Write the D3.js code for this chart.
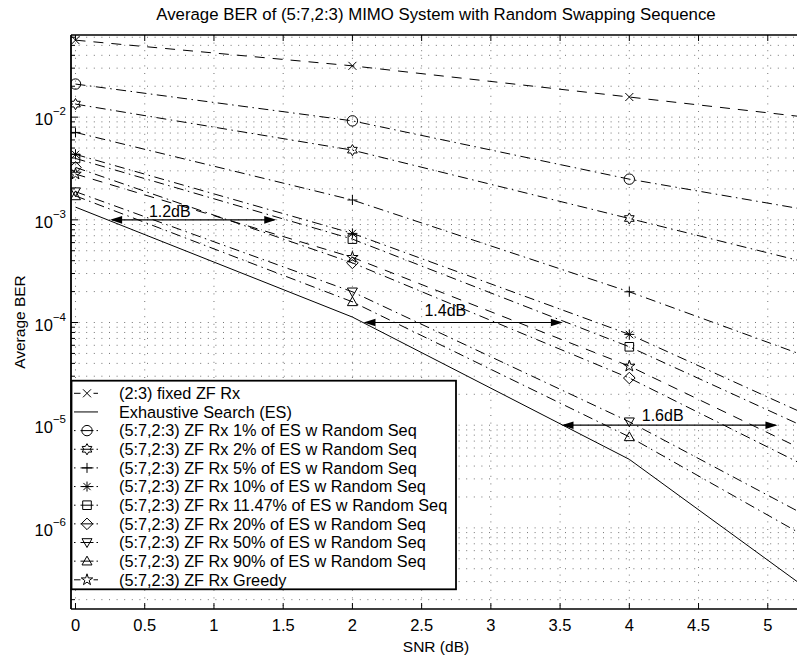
<!DOCTYPE html>
<html>
<head>
<meta charset="utf-8">
<script src="https://cdn.jsdelivr.net/npm/d3@7"></script>
<style>
  body { margin: 0; background: #fff; }
  svg { display: block; }
  text { font-family: "Liberation Sans", Arial, Helvetica, sans-serif; fill: #000; }
</style>
</head>
<body>
<svg id="chart" width="797" height="658"></svg>
<script>
// ---- data -------------------------------------------------------------
const snrDb = [0, 2, 4, 6];

const fixedZF   = [0.0562, 0.0316, 0.0157, 0.00774];
const exhaustive = [1.33e-3, 1.13e-4, 4.65e-6, 5.05e-8];
const rand1     = [0.0210, 9.2e-3, 2.49e-3, 8.5e-4];
const rand2     = [0.0134, 4.77e-3, 1.03e-3, 2.21e-4];
const rand5     = [7.1e-3, 1.56e-3, 1.99e-4, 2.07e-5];
const rand10    = [4.34e-3, 7.38e-4, 7.66e-5, 4.6e-6];
const rand1147  = [3.96e-3, 6.49e-4, 5.8e-5, 3.4e-6];
const rand20    = [3.24e-3, 3.81e-4, 2.88e-5, 1.3e-6];
const rand50    = [1.88e-3, 1.99e-4, 1.08e-5, 4.0e-7];
const rand90    = [1.71e-3, 1.59e-4, 7.7e-6, 2.3e-7];
const greedy    = [2.79e-3, 4.31e-4, 3.76e-5, 1.9e-6];

const legendLabels = [
  "(2:3) fixed ZF Rx",
  "Exhaustive Search (ES)",
  "(5:7,2:3) ZF Rx 1% of ES w Random Seq",
  "(5:7,2:3) ZF Rx 2% of ES w Random Seq",
  "(5:7,2:3) ZF Rx 5% of ES w Random Seq",
  "(5:7,2:3) ZF Rx 10% of ES w Random Seq",
  "(5:7,2:3) ZF Rx 11.47% of ES w Random Seq",
  "(5:7,2:3) ZF Rx 20% of ES w Random Seq",
  "(5:7,2:3) ZF Rx 50% of ES w Random Seq",
  "(5:7,2:3) ZF Rx 90% of ES w Random Seq",
  "(5:7,2:3) ZF Rx Greedy"
];

const xTicks = [0, 0.5, 1, 1.5, 2, 2.5, 3, 3.5, 4, 4.5, 5];
const yDecades = [-2, -3, -4, -5, -6];

// gain annotations (dB gap measured along constant-BER lines)
const gainLabels = ["1.2dB", "1.4dB", "1.6dB"];
const gainFrom   = [0.25, 2.08, 3.51];
const gainTo     = [1.45, 3.52, 5.07];
const gainBer    = [1e-3, 1e-4, 1e-5];
const gainTextX  = [0.53, 2.52, 4.09];
const gainTextBer = [1.22e-3, 1.32e-4, 1.25e-5];

const titleText = "Average BER of (5:7,2:3) MIMO System with Random Swapping Sequence";

// ---- series table -----------------------------------------------------
const seriesValues = [fixedZF, exhaustive, rand1, rand2, rand5, rand10, rand1147, rand20, rand50, rand90, greedy];
const seriesMarker = ["x", null, "o", "h", "+", "*", "s", "d", "v", "^", "p"];
const seriesStyle  = ["dash", "solid", "dashdot", "dashdot", "dashdot", "dashdot", "dashdot", "dashdot", "dashdot", "dashdot", "dash"];
const series = seriesValues.map((v, i) => ({
  name: legendLabels[i], values: v, marker: seriesMarker[i], style: seriesStyle[i]
}));

// ---- layout -----------------------------------------------------------
const svg = d3.select("#chart");
const plot = { left: 71, top: 35, right: 801, bottom: 609 };

const x = d3.scaleLinear().domain([-0.0325, 5.24]).range([plot.left, plot.right]);
const y = d3.scaleLog().domain([Math.pow(10, -6.79), Math.pow(10, -1.2)]).range([plot.bottom, plot.top]);

const dashArr = { dash: "10,8", dashdot: "10,4.5,1.5,4.5", solid: null };
const legendDash = { dash: "6.5,13,4.5", dashdot: "1.5,5,13,3,1.5", solid: null };

svg.append("defs").append("clipPath").attr("id", "plotClip")
  .append("rect")
  .attr("x", plot.left).attr("y", plot.top)
  .attr("width", plot.right - plot.left).attr("height", plot.bottom - plot.top);

// ---- grid -------------------------------------------------------------
const grid = svg.append("g").attr("stroke", "#000").attr("stroke-opacity", 0.55)
  .attr("stroke-width", 1).attr("stroke-dasharray", "1,6.6");

grid.selectAll("line.vx").data(xTicks).join("line")
  .attr("x1", d => x(d)).attr("x2", d => x(d))
  .attr("y1", plot.top).attr("y2", plot.bottom);

const yGridVals = [];
for (let e = -7; e <= -1; e++) {
  for (let k = 1; k <= 9; k++) {
    const v = k * Math.pow(10, e);
    if (v >= y.domain()[0] && v <= y.domain()[1]) yGridVals.push(v);
  }
}
grid.selectAll("line.hy").data(yGridVals).join("line")
  .attr("x1", plot.left).attr("x2", plot.right)
  .attr("y1", d => y(d)).attr("y2", d => y(d));

// ---- markers ----------------------------------------------------------
function markerPath(type) {
  const p = d3.path();
  if (type === "x") {
    const r = 4;
    p.moveTo(-r, -r); p.lineTo(r, r); p.moveTo(-r, r); p.lineTo(r, -r);
  } else if (type === "o") {
    p.arc(0, 0, 5.2, 0, 2 * Math.PI);
  } else if (type === "+") {
    const r = 5;
    p.moveTo(-r, 0); p.lineTo(r, 0); p.moveTo(0, -r); p.lineTo(0, r);
  } else if (type === "*") {
    const r = 5, q = 3.6;
    p.moveTo(-r, 0); p.lineTo(r, 0); p.moveTo(0, -r); p.lineTo(0, r);
    p.moveTo(-q, -q); p.lineTo(q, q); p.moveTo(-q, q); p.lineTo(q, -q);
  } else if (type === "s") {
    const r = 4.3;
    p.rect(-r, -r, 2 * r, 2 * r);
  } else if (type === "d") {
    const r = 5.8;
    p.moveTo(0, -r); p.lineTo(r, 0); p.lineTo(0, r); p.lineTo(-r, 0); p.closePath();
  } else if (type === "v") {
    p.moveTo(-5, -3.8); p.lineTo(5, -3.8); p.lineTo(0, 5); p.closePath();
  } else if (type === "^") {
    p.moveTo(-5, 3.8); p.lineTo(5, 3.8); p.lineTo(0, -5); p.closePath();
  } else if (type === "h" || type === "p") {
    const n = type === "h" ? 6 : 5;
    const R = type === "h" ? 5.6 : 6;
    const ri = type === "h" ? R / Math.sqrt(3) : R * 0.382;
    for (let i = 0; i < 2 * n; i++) {
      const a = -Math.PI / 2 + i * Math.PI / n;
      const rr = i % 2 === 0 ? R : ri;
      const px = rr * Math.cos(a), py = rr * Math.sin(a);
      if (i === 0) p.moveTo(px, py); else p.lineTo(px, py);
    }
    p.closePath();
  }
  return p.toString();
}

// ---- series -----------------------------------------------------------
const dataLayer = svg.append("g").attr("clip-path", "url(#plotClip)");
const line = d3.line().x((d, i) => x(snrDb[i])).y(d => y(d));

series.forEach(s => {
  dataLayer.append("path")
    .attr("d", line(s.values))
    .attr("fill", "none").attr("stroke", "#000").attr("stroke-width", 1)
    .attr("stroke-dasharray", dashArr[s.style]);
  if (s.marker) {
    dataLayer.selectAll(null).data(s.values).join("path")
      .attr("transform", (d, i) => `translate(${x(snrDb[i])},${y(d)})`)
      .attr("d", markerPath(s.marker))
      .attr("fill", "none").attr("stroke", "#000").attr("stroke-width", 1);
  }
});

// ---- gain arrows ------------------------------------------------------
const ann = svg.append("g").attr("clip-path", "url(#plotClip)");
gainLabels.forEach((lab, i) => {
  const x1 = x(gainFrom[i]), x2 = x(gainTo[i]), yy = y(gainBer[i]);
  const hl = 12, hw = 3.8;
  ann.append("line").attr("x1", x1 + 2).attr("x2", x2 - 2).attr("y1", yy).attr("y2", yy)
    .attr("stroke", "#000").attr("stroke-width", 1.2);
  ann.append("path")
    .attr("d", `M${x1},${yy}L${x1 + hl},${yy - hw}L${x1 + hl},${yy + hw}Z`)
    .attr("fill", "#000");
  ann.append("path")
    .attr("d", `M${x2},${yy}L${x2 - hl},${yy - hw}L${x2 - hl},${yy + hw}Z`)
    .attr("fill", "#000");
  ann.append("text").attr("x", x(gainTextX[i])).attr("y", y(gainTextBer[i]))
    .attr("dy", "0.35em").attr("font-size", 16).text(lab);
});

// ---- axes box and ticks -----------------------------------------------
const axes = svg.append("g").attr("stroke", "#000");
axes.append("line").attr("x1", plot.left).attr("x2", plot.right).attr("y1", plot.top).attr("y2", plot.top).attr("stroke-width", 1.6);
axes.append("line").attr("x1", plot.left).attr("x2", plot.right).attr("y1", plot.bottom).attr("y2", plot.bottom).attr("stroke-width", 1.6);
axes.append("line").attr("x1", plot.left).attr("x2", plot.left).attr("y1", plot.top).attr("y2", plot.bottom).attr("stroke-width", 1.8);

xTicks.forEach(t => {
  axes.append("line").attr("x1", x(t)).attr("x2", x(t)).attr("y1", plot.bottom).attr("y2", plot.bottom - 6).attr("stroke-width", 1);
  axes.append("line").attr("x1", x(t)).attr("x2", x(t)).attr("y1", plot.top).attr("y2", plot.top + 6).attr("stroke-width", 1);
});
yGridVals.forEach(v => {
  const major = Math.abs(Math.log10(v) - Math.round(Math.log10(v))) < 1e-9;
  axes.append("line").attr("x1", plot.left).attr("x2", plot.left + (major ? 7 : 4))
    .attr("y1", y(v)).attr("y2", y(v)).attr("stroke-width", 1);
});

// tick labels
svg.append("g").selectAll("text").data(xTicks).join("text")
  .attr("x", d => x(d)).attr("y", 631).attr("text-anchor", "middle")
  .attr("font-size", 16.5).text(d => d3.format("~g")(d));

const yl = svg.append("g").selectAll("text").data(yDecades).join("text")
  .attr("x", 66).attr("y", d => y(Math.pow(10, d)) + 8).attr("text-anchor", "end")
  .attr("font-size", 16.5);
yl.append("tspan").text("10");
yl.append("tspan").attr("dy", -10).attr("font-size", 11.5).text(d => "\u2212" + Math.abs(d));

// axis titles
svg.append("text").attr("x", 436).attr("y", 652).attr("text-anchor", "middle")
  .attr("font-size", 15.5).text("SNR (dB)");
svg.append("text").attr("transform", `translate(25,${(plot.top + plot.bottom) / 2}) rotate(-90)`)
  .attr("text-anchor", "middle").attr("font-size", 15.5).text("Average BER");
svg.append("text").attr("x", 436).attr("y", 20).attr("text-anchor", "middle")
  .attr("font-size", 16.8).text(titleText);

// ---- legend -----------------------------------------------------------
const lg = svg.append("g");
lg.append("rect").attr("x", 71.5).attr("y", 380.7).attr("width", 384.5).attr("height", 208.6)
  .attr("fill", "#fff").attr("stroke", "#000").attr("stroke-width", 1.8);

series.forEach((s, i) => {
  const cy = 393.3 + i * 18.65;
  const row = lg.append("g");
  row.append("line").attr("x1", 74).attr("x2", 98).attr("y1", cy).attr("y2", cy)
    .attr("stroke", "#000").attr("stroke-width", 1)
    .attr("stroke-dasharray", legendDash[s.style]);
  if (s.marker) {
    row.append("path").attr("transform", `translate(87,${cy})`).attr("d", markerPath(s.marker))
      .attr("fill", "none").attr("stroke", "#000").attr("stroke-width", 1);
  }
  row.append("text").attr("x", 119).attr("y", cy).attr("dy", "0.36em")
    .attr("font-size", 16.3).text(s.name);
});
</script>
</body>
</html>
